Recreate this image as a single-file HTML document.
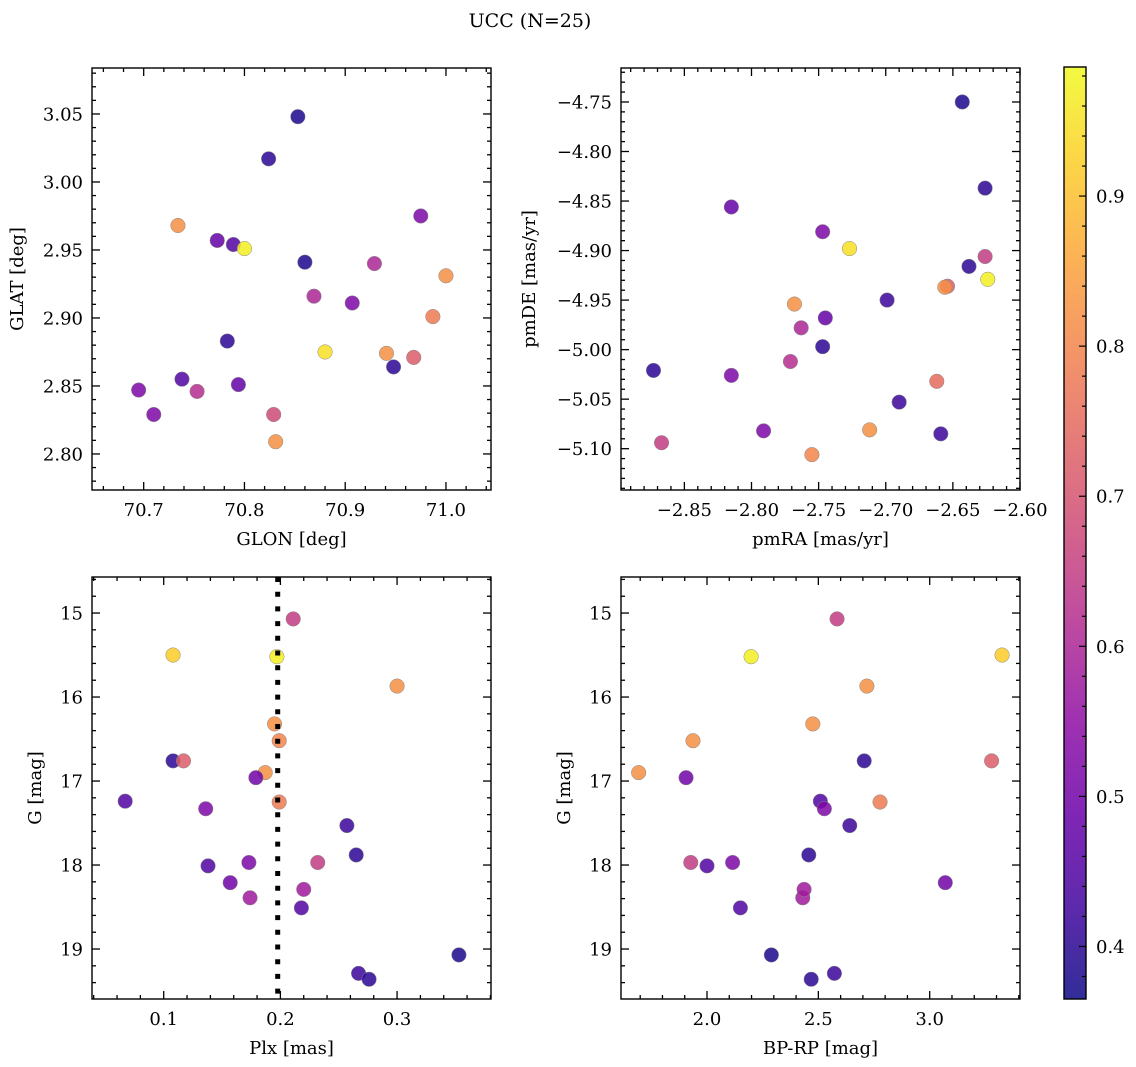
<!DOCTYPE html>
<html><head><meta charset="utf-8">
<style>
html,body{margin:0;padding:0;background:#fff;}
svg{display:block;font-family:"DejaVu Serif","Liberation Serif",serif;}
</style></head>
<body>
<svg id="fig" width="1136" height="1067" viewBox="0 0 1136 1067" xmlns="http://www.w3.org/2000/svg">
<text x="530" y="27" font-size="19" text-anchor="middle">UCC (N=25)</text>
</svg>
<script>
// Panel 1: GLON vs GLAT
const glon = [70.853,70.824,70.734,70.773,70.789,70.800,70.860,70.975,70.929,71.000,70.869,70.907,70.987,70.783,70.880,70.941,70.968,70.948,70.738,70.794,70.695,70.753,70.710,70.829,70.831];
const glat = [3.048,3.017,2.968,2.957,2.954,2.951,2.941,2.975,2.940,2.931,2.916,2.911,2.901,2.883,2.875,2.874,2.871,2.864,2.855,2.851,2.847,2.846,2.829,2.829,2.809];
const colA = [0.38,0.40,0.82,0.48,0.45,0.97,0.38,0.52,0.60,0.82,0.60,0.52,0.78,0.40,0.95,0.82,0.72,0.40,0.45,0.48,0.52,0.62,0.52,0.68,0.82];
// Panel 2: pmRA vs pmDE
const pmra = [-2.643,-2.626,-2.815,-2.747,-2.727,-2.626,-2.638,-2.624,-2.654,-2.656,-2.699,-2.768,-2.745,-2.763,-2.747,-2.771,-2.873,-2.815,-2.662,-2.690,-2.791,-2.712,-2.659,-2.867,-2.755];
const pmde = [-4.750,-4.837,-4.856,-4.881,-4.898,-4.906,-4.916,-4.929,-4.936,-4.937,-4.950,-4.954,-4.968,-4.978,-4.997,-5.012,-5.021,-5.026,-5.032,-5.053,-5.082,-5.081,-5.085,-5.094,-5.106];
const colB = [0.38,0.40,0.48,0.52,0.95,0.65,0.40,0.97,0.72,0.82,0.42,0.82,0.48,0.60,0.40,0.62,0.40,0.52,0.75,0.42,0.52,0.82,0.42,0.65,0.80];
// Panels 3/4: Plx, BP-RP vs G
const plx = [0.211,0.108,0.197,0.300,0.195,0.199,0.108,0.117,0.187,0.179,0.199,0.067,0.136,0.257,0.265,0.138,0.173,0.232,0.157,0.174,0.220,0.218,0.353,0.267,0.276];
const bprp = [2.584,3.325,2.198,2.718,2.475,1.937,2.706,3.278,1.693,1.906,2.777,2.509,2.527,2.641,2.457,2.000,2.115,1.927,3.070,2.430,2.436,2.150,2.289,2.572,2.468];
const gmag = [15.07,15.50,15.52,15.87,16.32,16.52,16.76,16.76,16.90,16.96,17.25,17.24,17.33,17.53,17.88,18.01,17.97,17.97,18.21,18.39,18.29,18.51,19.07,19.29,19.36];
const colC = [0.65,0.92,0.97,0.82,0.82,0.80,0.40,0.72,0.82,0.50,0.78,0.45,0.52,0.42,0.40,0.45,0.52,0.65,0.50,0.58,0.58,0.45,0.38,0.42,0.40];
const colC4 = [0.65,0.92,0.97,0.82,0.82,0.82,0.40,0.72,0.82,0.50,0.78,0.45,0.52,0.42,0.40,0.45,0.52,0.65,0.50,0.58,0.58,0.45,0.38,0.42,0.40];
const plxLine = [0.1977];
const ticks1x = [70.7,70.8,70.9,71.0], ticks1y = [2.80,2.85,2.90,2.95,3.00,3.05];
const ticks2x = [-2.85,-2.80,-2.75,-2.70,-2.65,-2.60], ticks2y = [-5.10,-5.05,-5.00,-4.95,-4.90,-4.85,-4.80,-4.75];
const ticks3x = [0.1,0.2,0.3], ticksGy = [15,16,17,18,19];
const ticks4x = [2.0,2.5,3.0];
const cbTicks = [0.4,0.5,0.6,0.7,0.8,0.9];
const VMIN = 0.365, VMAX = 0.986;

const NS = "http://www.w3.org/2000/svg";
const svg = document.getElementById('fig');
function mk(tag, attrs, parent){ const e=document.createElementNS(NS,tag); for(const k in attrs) e.setAttribute(k,attrs[k]); (parent||svg).appendChild(e); return e; }
const stops = ["#0d0887","#41049d","#6a00a8","#8f0da4","#b12a90","#cc4778","#e16462","#f2844b","#fca636","#fcce25","#f0f921"];
function hex(h){return [parseInt(h.slice(1,3),16),parseInt(h.slice(3,5),16),parseInt(h.slice(5,7),16)];}
function plasma(t){ t=Math.max(0,Math.min(1,t)); const f=t*10, i=Math.min(9,Math.floor(f)), r=f-i; const a=hex(stops[i]), b=hex(stops[i+1]); return 'rgb('+a.map((v,k)=>Math.round(v+(b[k]-v)*r)).join(',')+')'; }
function fmt(v,d){ const s=v.toFixed(d); return s.replace('-','\u2212'); }
const FS = 18;

function panel(o){
  const {x0,y0,w,h,xmin,xmax,ymin,ymax,invY,name} = o;
  const sx = v => x0 + (v-xmin)/(xmax-xmin)*w;
  const sy = v => invY ? y0 + (v-ymin)/(ymax-ymin)*h : y0 + h - (v-ymin)/(ymax-ymin)*h;
  const g = mk('g',{});
  
  
  const tg = mk('g',{stroke:'#000','stroke-width':1.3},g);
  
  
  for(let v=Math.ceil(xmin/o.xminor-1e-6)*o.xminor; v<=xmax+1e-9; v+=o.xminor){
    const isMaj = o.xt.some(t=>Math.abs(t-v)<o.xminor/10); const L=isMaj?8:4; const X=sx(v);
    mk('line',{x1:X,x2:X,y1:y0+h,y2:y0+h-L},tg); mk('line',{x1:X,x2:X,y1:y0,y2:y0+L},tg);
  }
  for(let v=Math.ceil(ymin/o.yminor-1e-6)*o.yminor; v<=ymax+1e-9; v+=o.yminor){
    const isMaj = o.yt.some(t=>Math.abs(t-v)<o.yminor/10); const L=isMaj?8:4; const Y=sy(v);
    mk('line',{y1:Y,y2:Y,x1:x0,x2:x0+L},tg); mk('line',{y1:Y,y2:Y,x1:x0+w,x2:x0+w-L},tg);
  }
  o.xt.forEach(t=>{ const e=mk('text',{x:sx(t),y:y0+h+26,'font-size':FS,'text-anchor':'middle'},g); e.textContent=fmt(t,o.xd);
      });
  o.yt.forEach(t=>{ const e=mk('text',{x:x0-9,y:sy(t)+6.5,'font-size':FS,'text-anchor':'end'},g); e.textContent=fmt(t,o.yd);
      });
  const xl=mk('text',{x:x0+w/2,y:y0+h+55,'font-size':FS,'text-anchor':'middle'},g); xl.textContent=o.xlabel;
   
  const yl=mk('text',{x:0,y:0,'font-size':FS,'text-anchor':'middle',transform:`translate(${o.ylx},${y0+h/2}) rotate(-90)`},g); yl.textContent=o.ylabel;
   
  o.xs.forEach((xv,i)=>{ const c=mk('circle',{cx:sx(xv),cy:sy(o.ys[i]),r:7.3,fill:plasma((o.cs[i]-VMIN)/(VMAX-VMIN)),'fill-opacity':0.85,stroke:'#888','stroke-width':0.5},g);
      });
  if(o.vline){ const l=mk('line',{x1:sx(o.vline),x2:sx(o.vline),y1:y0,y2:y0+h,stroke:'#000','stroke-width':5,'stroke-dasharray':'5 9.7'},g);
      }
  const fr=mk('rect',{x:x0,y:y0,width:w,height:h,fill:'none',stroke:'#000','stroke-width':1.4},g);
   
}

panel({name:'glon-glat-panel',x0:92,y0:68,w:399,h:422,xmin:70.6487,xmax:71.0447,ymin:2.7735,ymax:3.0838,xt:ticks1x,yt:ticks1y,xminor:0.02,yminor:0.01,xd:1,yd:2,xlabel:'GLON [deg]',ylabel:'GLAT [deg]',ylx:23,xs:glon,ys:glat,cs:colA});
panel({name:'pm-panel',x0:621,y0:68,w:399,h:422,xmin:-2.8972,xmax:-2.6,ymin:-5.1417,ymax:-4.7157,xt:ticks2x,yt:ticks2y,xminor:0.01,yminor:0.01,xd:2,yd:2,xlabel:'pmRA [mas/yr]',ylabel:'pmDE [mas/yr]',ylx:535,xs:pmra,ys:pmde,cs:colB});
panel({name:'plx-g-panel',x0:92,y0:577,w:399,h:422,xmin:0.03855,xmax:0.3805,ymin:14.571,ymax:19.595,invY:true,xt:ticks3x,yt:ticksGy,xminor:0.02,yminor:0.2,xd:1,yd:0,xlabel:'Plx [mas]',ylabel:'G [mag]',ylx:41,xs:plx,ys:gmag,cs:colC,vline:plxLine[0]});
panel({name:'cmd-panel',x0:621,y0:577,w:399,h:422,xmin:1.6138,xmax:3.4055,ymin:14.571,ymax:19.595,invY:true,xt:ticks4x,yt:ticksGy,xminor:0.1,yminor:0.2,xd:1,yd:0,xlabel:'BP-RP [mag]',ylabel:'G [mag]',ylx:570,xs:bprp,ys:gmag,cs:colC4});

// colorbar
(function(){
  const x0=1064,y0=67,w=22,h=932;
  const cb=mk('g',{});
   
  const defs=mk('defs',{},cb);
  const lg=mk('linearGradient',{id:'pg',x1:0,y1:1,x2:0,y2:0},defs);
  for(let i=0;i<=20;i++){ const t=i/20; mk('stop',{offset:t,'stop-color':plasma(t),'stop-opacity':0.85},lg); }
  mk('rect',{x:x0,y:y0,width:w,height:h,fill:'url(#pg)'},cb);
  const sy=v=>y0+h-(v-VMIN)/(VMAX-VMIN)*h;
  for(let v=0.38; v<VMAX; v+=0.02){ const Y=sy(v); const maj=cbTicks.some(t=>Math.abs(t-v)<0.002);
    mk('line',{x1:x0+w,x2:x0+w-(maj?7:4),y1:Y,y2:Y,stroke:'#000','stroke-width':1.2},cb); }
  cbTicks.forEach(t=>{ const e=mk('text',{x:x0+w+10,y:sy(t)+6.5,'font-size':FS},cb); e.textContent=t.toFixed(1);
      });
  mk('rect',{x:x0,y:y0,width:w,height:h,fill:'none',stroke:'#000','stroke-width':1.4},cb);
})();
</script>
</body></html>
